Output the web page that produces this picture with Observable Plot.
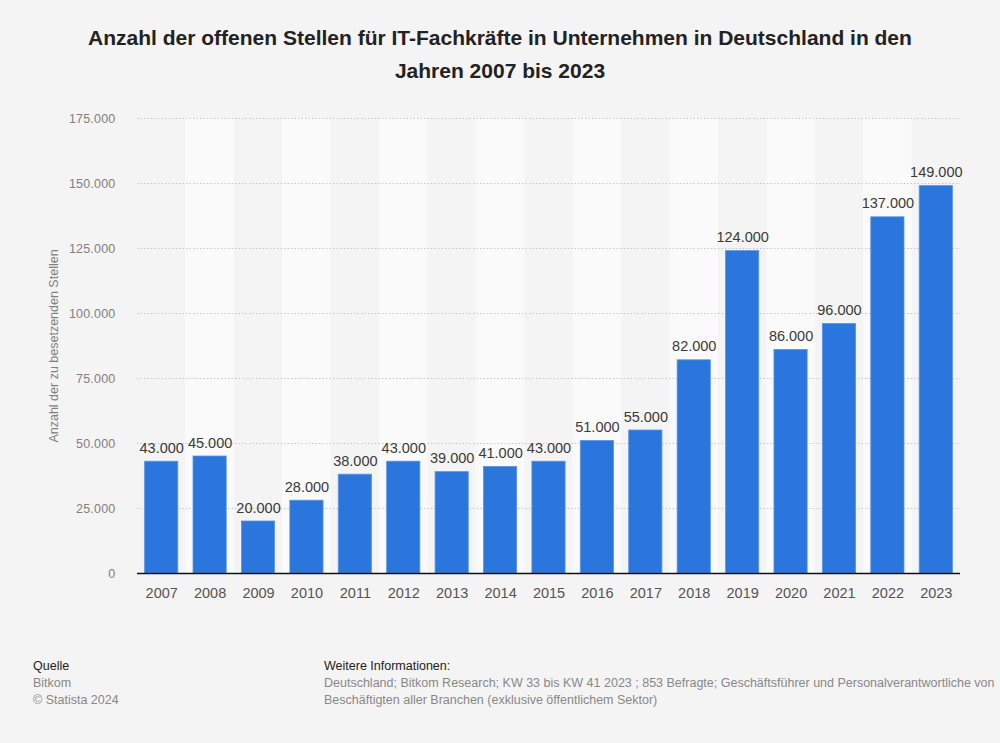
<!DOCTYPE html>
<html><head><meta charset="utf-8">
<script src="https://cdn.jsdelivr.net/npm/d3@7"></script>
<script src="https://cdn.jsdelivr.net/npm/@observablehq/plot@0.6"></script>
<style>
body{margin:0;background:#f4f4f4;font-family:"Liberation Sans",Arial,sans-serif;width:1000px;height:743px;overflow:hidden;}
#title{height:100px;box-sizing:border-box;padding-top:21px;text-align:center;font-weight:bold;font-size:21px;line-height:33px;color:#222;}
#chart svg{display:block}
#footer{position:relative;height:123px;font-size:12.5px;}
.q{position:absolute;left:33px;top:38px;line-height:17px;color:#888}
.w{position:absolute;left:324px;top:38px;line-height:17px;color:#888;width:690px;white-space:nowrap}
.h{color:#222}
</style></head>
<body>
<div id="title">Anzahl der offenen Stellen für IT-Fachkräfte in Unternehmen in Deutschland in den<br>Jahren 2007 bis 2023</div>
<div id="chart"></div>
<div id="footer">
<div class="q"><span class="h">Quelle</span><br>Bitkom<br>© Statista 2024</div>
<div class="w"><span class="h">Weitere Informationen:</span><br>Deutschland; Bitkom Research; KW 33 bis KW 41 2023 ; 853 Befragte; Geschäftsführer und Personalverantwortliche von<br>Beschäftigten aller Branchen (exklusive öffentlichem Sektor)</div>
</div>
<script>
const years = ["2007","2008","2009","2010","2011","2012","2013","2014","2015","2016","2017","2018","2019","2020","2021","2022","2023"];
const values = [43000,45000,20000,28000,38000,43000,39000,41000,43000,51000,55000,82000,124000,86000,96000,137000,149000];
const yTicks = [0,25000,50000,75000,100000,125000,150000,175000];

const de = d3.formatLocale({decimal:",",thousands:".",grouping:[3],currency:["","€"]});
const fmt = de.format(",d");
const data = years.map((y,i)=>({year:y,value:values[i],i}));
const bands = data.filter(d=>d.i%2===1);

const chart = Plot.plot({
  width:1000,height:520,
  marginTop:18,marginBottom:47,marginLeft:137,marginRight:40,
  style:{fontFamily:"'Liberation Sans',Arial,sans-serif",background:"transparent"},
  x:{domain:years,padding:0,round:false},
  y:{domain:[0,175000]},
  marks:[
    Plot.barY(bands,{x:"year",y1:0,y2:175000,fill:"#fafafa"}),
    Plot.gridY(yTicks,{stroke:"#bbb",strokeOpacity:1,strokeDasharray:"1.5,2",strokeWidth:0.8}),
    Plot.barY(data,{x:"year",y:"value",fill:"#2a76dd",stroke:"#5b95e6",strokeWidth:0.8,insetLeft:7.6,insetRight:7.6}),
    Plot.ruleY([0],{stroke:"#111",strokeWidth:1.5}),
    Plot.text(data,{x:"year",y:"value",text:d=>fmt(d.value),dy:-9,lineAnchor:"bottom",fontSize:14.5,fill:"#3a3a3a"}),
    Plot.axisX({tickSize:0,tickPadding:14,fontSize:14.5,color:"#555",label:null}),
    Plot.axisY({ticks:yTicks,tickFormat:fmt,tickSize:0,tickPadding:22,fontSize:12.5,color:"#808080",
      label:"Anzahl der zu besetzenden Stellen",labelAnchor:"center",labelArrow:"none",labelOffset:88})
  ]
});
chart.querySelectorAll("g[aria-label='y-axis tick label'] text").forEach(t=>t.setAttribute("letter-spacing","0.2"));
document.getElementById("chart").appendChild(chart);
</script>
</body></html>
